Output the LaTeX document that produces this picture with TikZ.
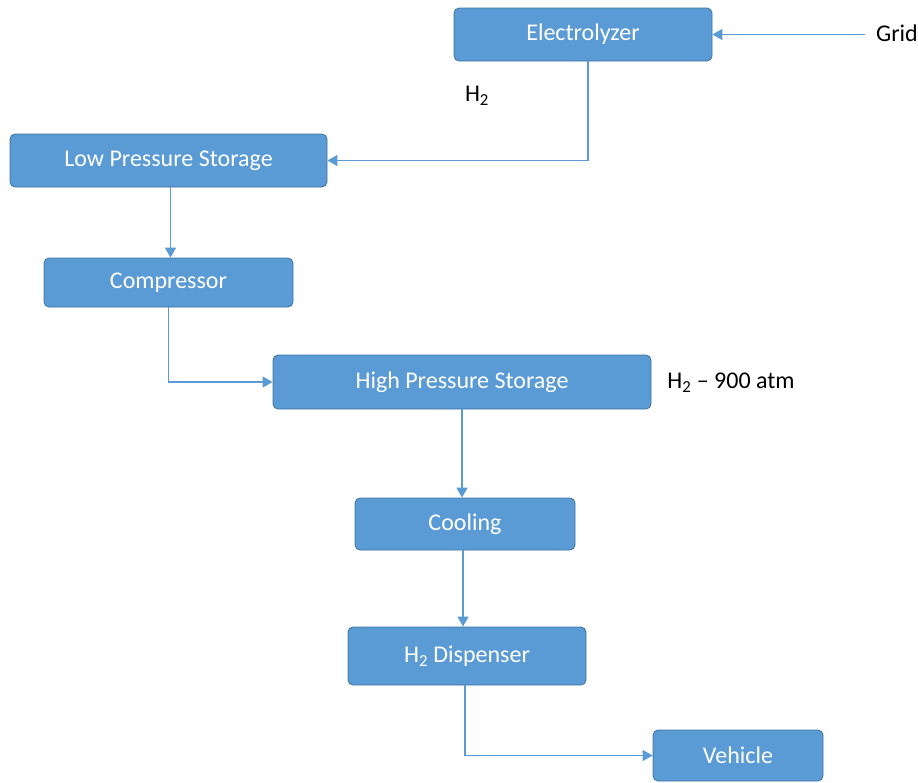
\documentclass[tikz,border=0pt]{standalone}
\usepackage{fontspec}
\setmainfont{Carlito}
\usetikzlibrary{arrows.meta}

\definecolor{boxblue}{HTML}{5B9BD5}
\definecolor{boxedge}{HTML}{41719C}

\tikzset{
    stage/.style={rectangle, rounded corners=5pt, draw=boxedge, line width=0.8pt,
        fill=boxblue, text=white, font=\fontsize{24}{28}\selectfont},
    flow/.style={draw=boxblue, line width=1.4pt, -{Triangle[length=10pt,width=11pt]}},
    note/.style={text=black, font=\fontsize{24}{28}\selectfont}
}

\begin{document}
\begin{tikzpicture}[x=1pt,y=-1pt]
        %    \draw [help lines] (0,0) grid (918,782);
        \useasboundingbox (0,0) rectangle (918,782);

        \path node (elec) [stage,minimum width=258,minimum height=53] at (583,34.5) {Electrolyzer};
        \path node (lps) [stage,minimum width=317,minimum height=53] at (168.5,160.5) {Low Pressure Storage};
        \path node (comp) [stage,minimum width=249,minimum height=49] at (168.5,282.5) {Compressor};
        \path node (hps) [stage,minimum width=378,minimum height=54] at (462,382) {High Pressure Storage};
        \path node (cool) [stage,minimum width=220,minimum height=52] at (465,524) {Cooling};
        \path node (disp) [stage,minimum width=238,minimum height=58] at (467,656) {H\textsubscript{2} Dispenser};
        \path node (veh) [stage,minimum width=170,minimum height=51] at (738,755.5) {Vehicle};

        \path node (grid) [note,anchor=west,inner sep=1pt] at (875,33) {Grid};
        \path node (h2) [note] at (477,96) {H\textsubscript{2}};
        \path node (atm) [note] at (731,383) {H\textsubscript{2} -- 900 atm};

        \coordinate (gridend) at (865,34.5);
        \draw[flow] (gridend) -- (elec.east);

        \draw[flow] ([xshift=5]elec.south) |- (lps.east);
        \draw[flow] ([xshift=2]lps.south) -- ([xshift=2]comp.north);
        \draw[flow] (comp.south) |- (hps.west);
        \draw[flow] (hps.south) -- (hps.south |- cool.north);
        \draw[flow] ([xshift=-2]cool.south) -- ([xshift=-4]disp.north);
        \draw[flow] ([xshift=-2]disp.south) |- (veh.west);

    \end{tikzpicture}
\end{document}
